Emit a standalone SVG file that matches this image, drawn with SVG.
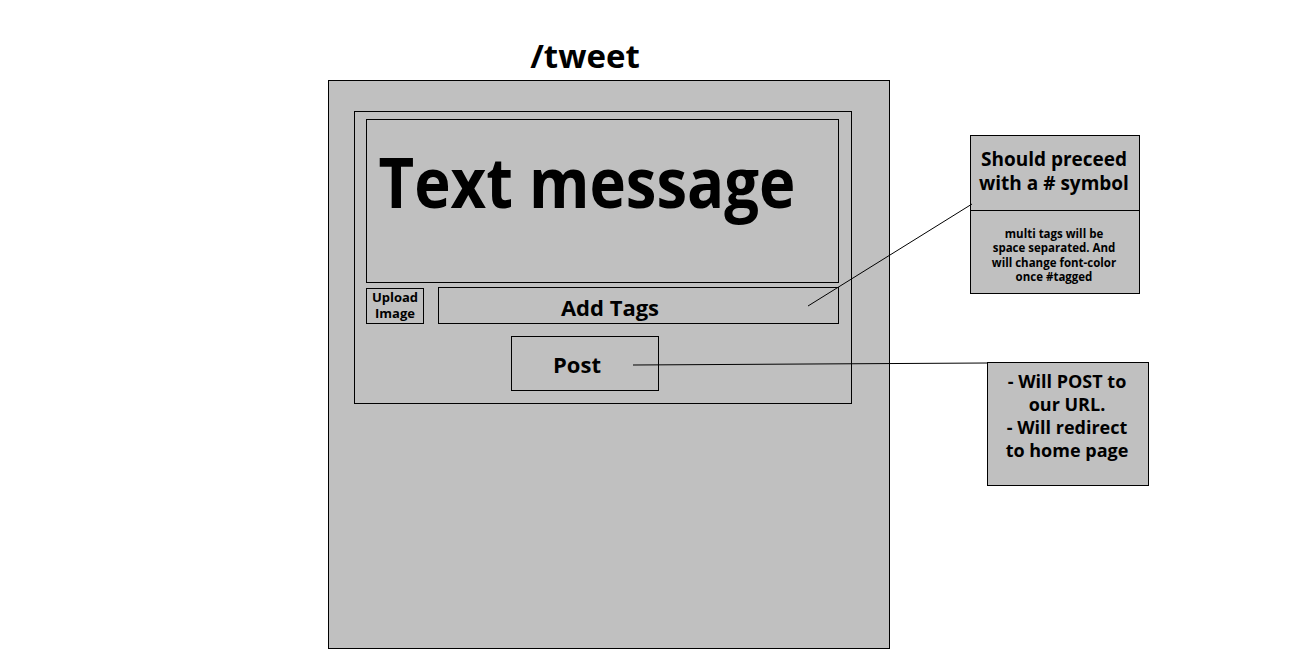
<svg xmlns="http://www.w3.org/2000/svg" width="1297" height="669" viewBox="0 0 1297 669">
<style>
.box{fill:#c0c0c0;stroke:#000;stroke-width:1}
.t{font-family:"Open Sans","Liberation Sans",sans-serif;font-weight:bold;fill:#000;text-anchor:middle}
.ln{fill:none;stroke:#000;stroke-width:1}
</style>
<rect width="1297" height="669" fill="#fff"/>
<g id="title"><text class="t" x="585" y="68" font-size="33">/tweet</text></g>
<g id="frame"><rect class="box" x="328.5" y="80.5" width="561" height="568"/></g>
<g id="panel"><rect class="box" x="354.5" y="111.5" width="497" height="292"/></g>
<g id="textmessage"><rect class="box" x="366.5" y="119.5" width="472" height="163"/>
<text class="t" x="587" y="208" font-size="70" textLength="417" lengthAdjust="spacingAndGlyphs">Text message</text></g>
<g id="upload"><rect class="box" x="366.5" y="288.5" width="57" height="35"/>
<text class="t" x="395" y="302" font-size="13">Upload</text><text class="t" x="395" y="318" font-size="13">Image</text></g>
<g id="tags"><rect class="box" x="438.5" y="287.5" width="400" height="36"/>
<text class="t" x="610" y="316" font-size="22">Add Tags</text></g>
<g id="post"><rect class="box" x="511.5" y="336.5" width="147" height="54"/>
<text class="t" x="577" y="373" font-size="22">Post</text></g>
<g id="note1"><rect class="box" x="970.5" y="135.5" width="169" height="75"/>
<text class="t" x="1054" y="166" font-size="19">Should preceed</text><text class="t" x="1054" y="190" font-size="19">with a # symbol</text></g>
<g id="note2"><rect class="box" x="970.5" y="210.5" width="169" height="83"/>
<text class="t" x="1054" y="238" font-size="11.5">multi tags will be</text><text class="t" x="1054" y="252" font-size="11.5">space separated. And</text><text class="t" x="1054" y="267" font-size="11.5">will change font-color</text><text class="t" x="1054" y="281" font-size="11.5">once #tagged</text></g>
<g id="note3"><rect class="box" x="987.5" y="362.5" width="161" height="123"/>
<text class="t" x="1067" y="388" font-size="18">- Will POST to</text><text class="t" x="1067" y="411" font-size="18">our URL.</text><text class="t" x="1067" y="434" font-size="18">- Will redirect</text><text class="t" x="1067" y="457" font-size="18">to home page</text></g>
<g id="connectors">
<path class="ln" d="M808 306 L972 204"/>
<path class="ln" stroke="#444" d="M633 365 L987 363"/>
</g>
</svg>
